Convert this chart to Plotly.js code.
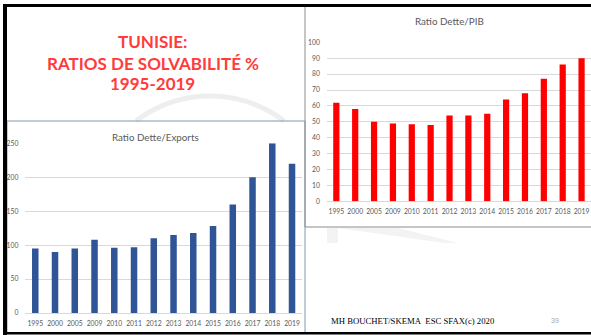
<!DOCTYPE html>
<html>
<head>
<meta charset="utf-8">
<script src="https://cdn.plot.ly/plotly-3.0.1.min.js"></script>
<style>
  html, body { margin: 0; padding: 0; background: #ffffff; }
  #chart { width: 591px; height: 335px; }
</style>
</head>
<body>
<div id="chart"></div>
<script>
// Tunisia solvency ratios (%), 1995-2019
const years = ["1995", "2000", "2005", "2009", "2010", "2011", "2012", "2013", "2014", "2015", "2016", "2017", "2018", "2019"];
const debtToExports = [95, 90, 95, 108, 96, 97, 110, 115, 118, 128, 160, 200, 250, 220];
const debtToGdp = [62, 58, 50, 49, 48.5, 48, 54, 54, 55, 64, 68, 77, 86, 90];

const W = 591, H = 335;
const px = x => x / W;
const py = y => 1 - y / H;

const tickFont = { family: "Lato, sans-serif", size: 6.8, color: "#595959" };
const chartTitleFont = { family: "Lato, sans-serif", size: 9.8, color: "#595959" };
const headFont = { family: "Lato, sans-serif", size: 17, color: "#ff3b3b", weight: "bold" };
const markColor = "#eeeeee";

// arc of the background logo ring, as a polyline path (screen pixels in, paper units out)
function arcPath(cx, cy, r, a0, a1) {
  const n = 40;
  let d = "";
  for (let i = 0; i <= n; i++) {
    const a = a0 + (a1 - a0) * i / n;
    d += (i ? " L" : "M") + px(cx + r * Math.cos(a)).toFixed(5) + "," + py(cy + r * Math.sin(a)).toFixed(5);
  }
  return d;
}
function polyPath(pts) {
  return pts.map((p, i) => (i ? "L" : "M") + px(p[0]).toFixed(5) + "," + py(p[1]).toFixed(5)).join(" ") + " Z";
}
const ring = { cx: 210, cy: 218, r: 122 };
const halfChord = Math.sqrt(ring.r ** 2 - (121 - ring.cy) ** 2);
const topArc = arcPath(ring.cx, ring.cy, ring.r,
  Math.atan2(121 - ring.cy, -halfChord), Math.atan2(121 - ring.cy, halfChord));

const traces = [
  {
    type: "bar", x: years, y: debtToExports, xaxis: "x", yaxis: "y",
    marker: { color: "#2f5597" }, hoverinfo: "x+y"
  },
  {
    type: "bar", x: years, y: debtToGdp, xaxis: "x2", yaxis: "y2",
    marker: { color: "#ff0000" }, hoverinfo: "x+y"
  }
];

function ann(text, x, y, font, xanchor) {
  return { text, x: px(x), y: py(y), xref: "paper", yref: "paper",
           xanchor: xanchor || "center", yanchor: "middle", showarrow: false, font };
}

const layout = {
  width: W, height: H,
  margin: { l: 0, r: 0, t: 0, b: 0, pad: 0 },
  paper_bgcolor: "#ffffff",
  plot_bgcolor: "rgba(0,0,0,0)",
  showlegend: false,
  bargap: 0.67,
  xaxis: {
    domain: [px(25.4), px(301.9)], anchor: "y", type: "category",
    showgrid: false, showline: false, zeroline: false, ticks: "",
    tickfont: tickFont, ticklabelstandoff: 5, fixedrange: true
  },
  yaxis: {
    domain: [py(313), py(143.3)], anchor: "x", range: [0, 250], dtick: 50,
    showgrid: true, gridcolor: "#d9d9d9", gridwidth: 1,
    zeroline: true, zerolinecolor: "#d9d9d9", zerolinewidth: 1,
    showline: false, ticks: "", tickfont: tickFont, ticklabelstandoff: 6, fixedrange: true
  },
  xaxis2: {
    domain: [px(326.9), 1], anchor: "y2", type: "category",
    showgrid: false, showline: false, zeroline: false, ticks: "",
    tickfont: tickFont, ticklabelstandoff: 5, fixedrange: true
  },
  yaxis2: {
    domain: [py(201.3), py(42.3)], anchor: "x2", range: [0, 100], dtick: 10,
    showgrid: true, gridcolor: "#d9d9d9", gridwidth: 1,
    zeroline: true, zerolinecolor: "#d9d9d9", zerolinewidth: 1,
    showline: false, ticks: "", tickfont: tickFont, ticklabelstandoff: 6, fixedrange: true
  },
  shapes: [
    // logo watermark on the slide, visible around the chart frames
    { type: "path", xref: "paper", yref: "paper", layer: "below", path: topArc,
      line: { color: markColor, width: 5 } },
    { type: "path", xref: "paper", yref: "paper", layer: "below",
      path: polyPath([[327, 228], [338, 228], [338, 243], [327, 243]]),
      fillcolor: "#f3f3f3", line: { width: 0 } },
    { type: "path", xref: "paper", yref: "paper", layer: "below",
      path: polyPath([[338, 228], [398, 228], [458, 243], [445, 243]]),
      fillcolor: "#f3f3f3", line: { width: 0 } },
    // chart frames
    { type: "rect", xref: "paper", yref: "paper", layer: "below",
      x0: px(7), x1: px(305), y0: py(333), y1: py(121),
      fillcolor: "rgba(0,0,0,0)", line: { color: "#8497b0", width: 1 } },
    { type: "rect", xref: "paper", yref: "paper", layer: "below",
      x0: px(305), x1: px(593), y0: py(227), y1: py(6),
      fillcolor: "rgba(0,0,0,0)", line: { color: "#8c8c8c", width: 1 } },
    // slide border
    { type: "rect", xref: "paper", yref: "paper", layer: "above",
      x0: px(3), x1: px(591), y0: py(7), y1: py(4),
      fillcolor: "#000000", line: { width: 0 } },
    { type: "rect", xref: "paper", yref: "paper", layer: "above",
      x0: px(3), x1: px(7), y0: py(335), y1: py(4),
      fillcolor: "#000000", line: { width: 0 } },
    { type: "rect", xref: "paper", yref: "paper", layer: "above",
      x0: px(3), x1: px(591), y0: py(334.5), y1: py(332),
      fillcolor: "#000000", line: { width: 0 } }
  ],
  annotations: [
    ann("TUNISIE:", 152.5, 42, headFont),
    ann("RATIOS DE SOLVABILITÉ %", 152.5, 63, headFont),
    ann("1995-2019", 152.5, 83, headFont),
    ann("Ratio Dette/Exports", 155, 137, chartTitleFont),
    ann("Ratio Dette/PIB", 449, 21.5, chartTitleFont),
    ann("MH BOUCHET/SKEMA\u00a0\u00a0ESC SFAX(c) 2020", 329, 321,
        { family: "Liberation Serif, Times New Roman, serif", size: 8.7, color: "#000000" }, "left"),
    ann("39", 555, 320, { family: "Liberation Sans, Arial, sans-serif", size: 7, color: "#a6a6a6" })
  ]
};

Plotly.newPlot("chart", traces, layout, { displayModeBar: false, staticPlot: true });
</script>
</body>
</html>
